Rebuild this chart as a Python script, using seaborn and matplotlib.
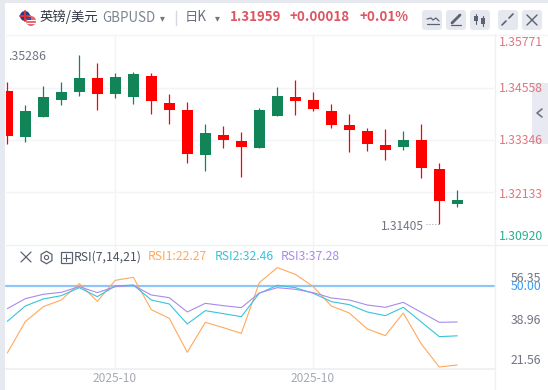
import matplotlib
matplotlib.use("Agg")
import matplotlib.pyplot as plt
from matplotlib.patches import Rectangle, FancyBboxPatch, Circle
import numpy as np
import seaborn as sns

# candle data
opens = [1.34477, 1.33414, 1.33876, 1.34269, 1.34454, 1.34777, 1.34408, 1.34338, 1.34824, 1.34200,
         1.34038, 1.32998, 1.33460, 1.33322, 1.33160, 1.33899, 1.34338, 1.34269, 1.34015, 1.33691,
         1.33553, 1.33229, 1.33183, 1.33345, 1.32675, 1.31866]
closes = [1.33445, 1.34015, 1.34338, 1.34454, 1.34777, 1.34408, 1.34801, 1.34870, 1.34246, 1.34038,
          1.33021, 1.33507, 1.33345, 1.33183, 1.34038, 1.34362, 1.34246, 1.34061, 1.33691, 1.33576,
          1.33252, 1.33114, 1.33345, 1.32698, 1.31935, 1.31959]
highs = [1.34685, 1.34154, 1.34593, 1.34685, 1.35309, 1.35124, 1.34893, 1.34916, 1.34893, 1.34408,
         1.34223, 1.33715, 1.33668, 1.33530, 1.34084, 1.34569, 1.34731, 1.34454, 1.34177, 1.33946,
         1.33622, 1.33599, 1.33553, 1.33715, 1.32813, 1.32190]
lows = [1.33252, 1.33299, 1.33876, 1.34154, 1.34362, 1.34038, 1.34315, 1.34177, 1.33946, 1.33715,
        1.32813, 1.32629, 1.33160, 1.32490, 1.33160, 1.33899, 1.33923, 1.34015, 1.33622, 1.33068,
        1.33091, 1.32883, 1.33106, 1.32467, 1.31405, 1.31797]

rsi1 = [26.46, 37.40, 42.63, 44.96, 50.66, 44.49, 51.82, 52.87, 41.58, 38.56, 26.69, 37.16, 35.30,
        33.32, 51.01, 56.24, 53.92, 49.61, 42.86, 40.42, 34.84, 32.51, 40.42, 29.60, 21.57, 22.27]
rsi2 = [37.51, 42.86, 45.31, 46.47, 49.26, 46.12, 49.84, 50.19, 44.96, 43.56, 36.58, 41.23, 40.19,
        39.14, 47.28, 50.08, 49.26, 47.28, 44.38, 43.33, 40.77, 39.49, 42.40, 37.28, 32.16, 32.46]
rsi3 = [41.93, 45.42, 46.94, 47.63, 49.61, 47.52, 49.61, 50.08, 46.70, 45.77, 40.77, 43.79, 42.98,
        42.28, 47.40, 49.26, 48.68, 47.52, 45.66, 44.96, 43.21, 42.40, 44.14, 40.65, 37.16, 37.28]

price_ticks = [1.34558, 1.33346, 1.32133]
date_ticks = [6, 17]
date_label = "2025-10"

RED = "#ff0000"
GREEN = "#118458"
GRID = "#f3f4f8"

sns.set_theme(style="white")
plt.rcParams["font.family"] = ["Noto Sans CJK SC", "DejaVu Sans"]

W, H = 548, 390
fig = plt.figure(figsize=(W / 100, H / 100), dpi=100, facecolor="white")


def px_axes(x0, y0, x1, y1):
    return fig.add_axes([x0 / W, 1 - y1 / H, (x1 - x0) / W, (y1 - y0) / H])


days = np.arange(len(opens))
xlim = ((6 - 7.3) / 18, (494 - 7.3) / 18)

########### candles ######################
ax = px_axes(6, 35, 494, 245)
for i in days:
    col = GREEN if closes[i] > opens[i] else RED
    ax.vlines(i, lows[i], highs[i], color=col, lw=0.9, zorder=3)
    ax.bar(i, abs(closes[i] - opens[i]), bottom=min(opens[i], closes[i]), width=0.61, color=col,
           linewidth=0, zorder=4)
ax.set_xlim(xlim)
ax.set_ylim(1.30920, 1.35771)
ax.set_yticks(price_ticks)
ax.set_xticks(date_ticks)
ax.grid(True, color=GRID, lw=1)
ax.set_axisbelow(True)
ax.tick_params(left=False, bottom=False, labelleft=False, labelbottom=False)
sns.despine(ax=ax, left=True, top=True, right=True, bottom=True)

########### RSI ######################
ax2 = px_axes(6, 246, 494, 369)
sns.lineplot(x=days, y=rsi1, ax=ax2, color="#ffa95c", lw=0.8, zorder=3)
sns.lineplot(x=days, y=rsi2, ax=ax2, color="#35c5dc", lw=0.8, zorder=3)
sns.lineplot(x=days, y=rsi3, ax=ax2, color="#a98bea", lw=0.8, zorder=3)
ax2.axhline(50, color="#8fc5f7", lw=1.6, zorder=2, clip_on=False)
ax2.set_xlim(xlim)
ax2.set_ylim(20.87, 63.8)
ax2.set_xticks(date_ticks)
ax2.set_yticks([])
ax2.grid(True, axis="x", color=GRID, lw=1)
ax2.set_axisbelow(True)
ax2.tick_params(left=False, bottom=False, labelleft=False, labelbottom=False)
sns.despine(ax=ax2, left=True, top=True, right=True, bottom=False)
ax2.spines["bottom"].set_color("#eef0f4")

########### page stuff ######################
ov = fig.add_axes([0, 0, 1, 1], facecolor="none")
ov.set_xlim(0, W)
ov.set_ylim(H, 0)
ov.axis("off")

ov.add_patch(Rectangle((0, 0), 5, H, color="#e6e9f0", lw=0))
ov.add_patch(Rectangle((0, 0), W, 3, color="#e6e9f0", lw=0))
ov.plot([6, 548], [34.5, 34.5], color=GRID, lw=1)
ov.plot([6, 548], [245, 245], color="#eef0f4", lw=1)
ov.plot([494.5, 494.5], [34, 390], color="#eef0f4", lw=1)

# flags
ov.add_patch(Circle((25, 16), 5, color="#2b3f86", lw=0))
ov.plot([20, 30], [16, 16], color="#e0303a", lw=1.4)
ov.plot([25, 25], [11, 21], color="#e0303a", lw=1.4)
ov.add_patch(Circle((31, 21), 5, color="#e8626a", lw=0, zorder=3))
ov.plot([27, 35], [20, 20], color="white", lw=0.8, zorder=4)
ov.plot([27, 35], [23, 23], color="white", lw=0.8, zorder=4)
ov.add_patch(Rectangle((26.5, 16.5), 4, 3.5, color="#3b4f96", lw=0, zorder=4))

HEAD = "#5c6270"
ov.text(40, 17, "英镑/美元", fontsize=9.6, color="#333844", va="center")
ov.text(102, 18.5, "GBPUSD", fontsize=9.6, color="#7d8390", va="center")
ov.text(162, 18.5, "▾", fontsize=7, color="#70757f", va="center", ha="center")
ov.plot([175.5, 175.5], [11, 25], color="#d5d8e0", lw=1)
ov.text(185, 17, "日K", fontsize=9.6, color="#6a707c", va="center")
ov.text(217, 18.5, "▾", fontsize=7, color="#70757f", va="center", ha="center")
ov.text(230, 17, "1.31959", fontsize=9.6, color="#dd5563", va="center", fontweight="bold")
ov.text(290, 17, "+0.00018", fontsize=9.6, color="#dd5563", va="center", fontweight="bold")
ov.text(360, 17, "+0.01%", fontsize=9.6, color="#dd5563", va="center", fontweight="bold")

# header buttons
for bx in [420, 444, 468, 496, 520]:
    ov.add_patch(FancyBboxPatch((bx + 2, 10), 20, 20, boxstyle="round,pad=0,rounding_size=3",
                                color="#e6e8ef", lw=0))
ov.plot([427, 431, 433, 436, 439], [19, 18, 20, 18, 21], color=HEAD, lw=0.9)
ov.plot([427, 439], [24, 24], color=HEAD, lw=0.9)
ov.plot([452, 460], [23, 15], color=HEAD, lw=2)
ov.plot([451, 461], [25, 25], color=HEAD, lw=0.9)
ov.plot([476, 476], [14, 24], color=HEAD, lw=0.8)
ov.plot([482.5, 482.5], [16, 26], color=HEAD, lw=0.8)
ov.add_patch(Rectangle((474, 16), 4, 5, color=HEAD, lw=0))
ov.add_patch(Rectangle((480.5, 18), 4, 6, color=HEAD, lw=0))
ov.plot([502, 506], [25, 21], color=HEAD, lw=1.2)
ov.plot([509, 513], [18, 14], color=HEAD, lw=1.2)
ov.plot([527, 537], [15, 25], color=HEAD, lw=1)
ov.plot([537, 527], [15, 25], color=HEAD, lw=1)

# side tab
ov.add_patch(Rectangle((532, 83), 16, 61, color="#e9eaf1", lw=0))
ov.plot([542, 537, 542], [109, 113, 117], color="#6f7583", lw=1.2)

# price scale
scale_y = [43, 88, 141, 194]
scale_txt = ["1.35771", "1.34558", "1.33346", "1.32133"]
for ty, s in zip(scale_y, scale_txt):
    ov.text(499, ty, s, fontsize=8.8, color="#e0757e", va="center")
ov.text(499, 236, "1.30920", fontsize=8.8, color="#27b08f", va="center")

ov.text(8, 57, ".35286", fontsize=8.9, color="#6f7480", va="center")
ov.text(381, 226, "1.31405", fontsize=8.6, color="#6f7480", va="center")
ov.plot([426, 439], [223.5, 223.5], color="#9a9ea8", lw=0.7, ls=(0, (1, 2)))

# RSI header
ov.plot([21, 31], [252, 262], color=HEAD, lw=0.9)
ov.plot([31, 21], [252, 262], color=HEAD, lw=0.9)
ov.plot(45.5, 257, marker="h", ms=9, mfc="none", mec=HEAD, mew=0.9)
ov.plot(45.5, 257, marker="o", ms=3, mfc="none", mec=HEAD, mew=0.8)
ov.add_patch(Rectangle((60.5, 252), 11, 11, fc="none", ec=HEAD, lw=0.9))
ov.plot([66, 66], [254, 261], color=HEAD, lw=0.8)
ov.plot([62.5, 69.5], [257.5, 257.5], color=HEAD, lw=0.8)
ov.text(74, 257, "RSI(7,14,21)", fontsize=8.8, color="#4c5260", va="center")
ov.text(148, 257, "RSI1:22.27", fontsize=8.8, color="#ffa95c", va="center")
ov.text(215, 257, "RSI2:32.46", fontsize=8.8, color="#35c5dc", va="center")
ov.text(281, 257, "RSI3:37.28", fontsize=8.8, color="#a98bea", va="center")

# RSI scale, 56.35 and 50.00 sit on top of each other in the original too
ov.text(511, 279, "56.35", fontsize=8.8, color="#6f7480", va="center")
ov.text(511, 287, "50.00", fontsize=8.8, color="#3b9af2", va="center")
ov.text(511, 320, "38.96", fontsize=8.8, color="#6f7480", va="center")
ov.text(511, 361, "21.56", fontsize=8.8, color="#6f7480", va="center")

# dates
for dx in [115, 313]:
    ov.text(dx, 378, date_label, fontsize=8.6, color="#a5a9b5", va="center", ha="center")

fig.savefig("out.png", dpi=100)
